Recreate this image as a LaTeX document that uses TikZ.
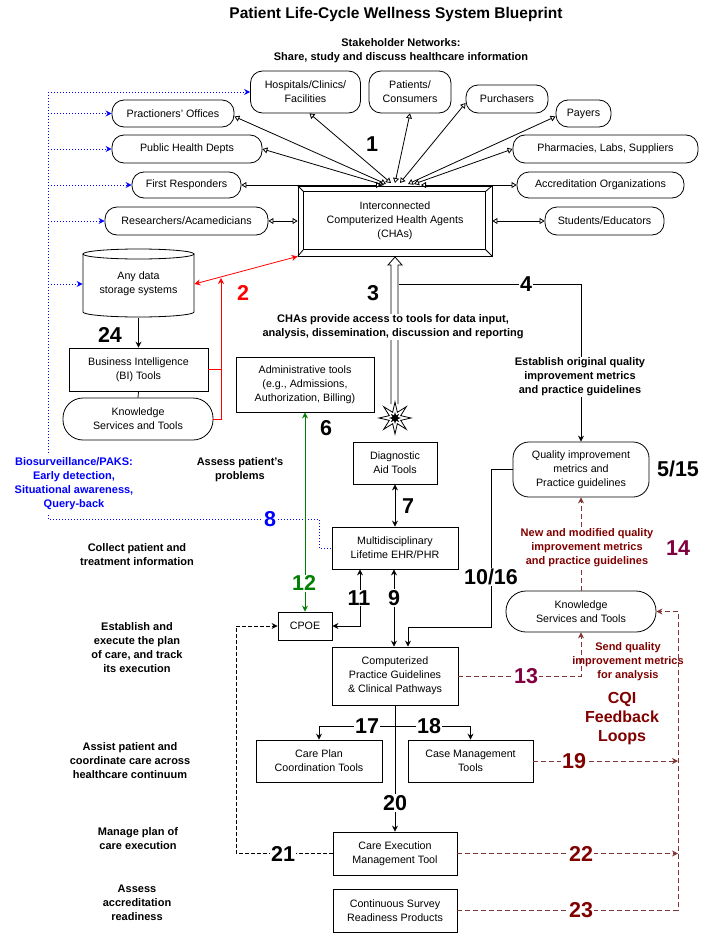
\documentclass[tikz,border=0pt]{standalone}
\usepackage{fontspec}
\setmainfont{Liberation Sans}
\usetikzlibrary{arrows.meta,shapes.geometric}
\definecolor{dred}{RGB}{128,0,0}
\definecolor{dpur}{RGB}{128,0,64}
\definecolor{lred}{RGB}{128,52,52}
\definecolor{dgreen}{RGB}{0,128,0}
\definecolor{bblue}{RGB}{0,0,255}
\newcommand\nfont{\fontsize{10.7}{14}\selectfont}
\newcommand\bfont{\fontsize{11}{14}\selectfont\bfseries}
\newcommand\numfont{\fontsize{21.5}{24}\selectfont\bfseries}
\begin{document}
\begin{tikzpicture}[x=1pt,y=-1pt,line width=0.8pt,
  sbox/.style={draw, align=center, inner sep=0pt, font=\nfont},
  rbox/.style={sbox, rounded corners=#1}, rbox/.default=12pt,
  txt/.style={align=center, inner sep=1pt, font=\bfont},
  lab/.style={font=\numfont, inner sep=1pt},
  labw/.style={lab, fill=white},
  arr/.style={-{Stealth[length=6pt,width=6pt,inset=2pt]}},
  darr/.style={{Stealth[length=6pt,width=6pt,inset=2pt]}-{Stealth[length=6pt,width=6pt,inset=2pt]}},
  tri/.style={{Triangle[open,length=5pt,width=6pt]}-{Triangle[open,length=5pt,width=6pt]}},
  bline/.style={bblue, dash pattern=on 1pt off 2pt},
  rdash/.style={lred, dash pattern=on 5pt off 3pt},
  kdash/.style={black, dash pattern=on 4pt off 2pt}]
\fill[white] (0,0) rectangle (713,939);
\useasboundingbox (0,0) rectangle (713,939);

% titles
\node[font=\fontsize{15.5}{18}\selectfont\bfseries] (title) at (396,14) {Patient Life-Cycle Wellness System Blueprint};
\node[txt] (sub) at (401,50.5) {Stakeholder Networks:\\Share, study and discuss healthcare information};

% stakeholder nodes
\node[rbox, minimum width=110pt, minimum height=42pt] (hosp) at (305.5,92) {Hospitals/Clinics/\\Facilities};
\node[rbox, minimum width=82pt, minimum height=42pt] (pat) at (410,92) {Patients/\\Consumers};
\node[rbox, minimum width=82pt, minimum height=28pt] (purch) at (507,99) {Purchasers};
\node[rbox, minimum width=55pt, minimum height=27pt] (payers) at (583.5,113.5) {Payers};
\node[rbox, minimum width=122pt, minimum height=27pt] (prac) at (173,113.5) {Practioners' Offices};
\node[rbox, minimum width=150pt, minimum height=28pt] (phd) at (187,149) {Public Health Depts};
\node[rbox, minimum width=109pt, minimum height=26pt] (fr) at (186.5,185) {First Responders};
\node[rbox, minimum width=163pt, minimum height=28pt] (res) at (186.5,221) {Researchers/Acamedicians};
\node[rbox, minimum width=185pt, minimum height=28pt] (pharm) at (605.5,149) {Pharmacies, Labs, Suppliers};
\node[rbox, minimum width=167pt, minimum height=26pt] (accr) at (600.5,185) {Accreditation Organizations};
\node[rbox, minimum width=119pt, minimum height=28pt] (stud) at (604.5,221) {Students/Educators};

% CHAs bevel box
\node[sbox, minimum width=194pt, minimum height=70pt] (cha) at (395,221) {Interconnected\\Computerized Health Agents\\(CHAs)};
\draw ([shift={(6pt,-6pt)}]cha.north west) rectangle ([shift={(-7pt,7pt)}]cha.south east);
\draw (cha.north west) -- +(6pt,-6pt);
\draw (cha.north east) -- +(-7pt,-6pt);
\draw (cha.south west) -- +(6pt,7pt);
\draw (cha.south east) -- +(-7pt,7pt);

% hub coordinates
\coordinate (h1) at (386,184);
\coordinate (h2) at (384,185);
\coordinate (h3) at (381,185);
\coordinate (h4) at (391,183);
\coordinate (h5) at (395,183);
\coordinate (h6) at (400,183);
\coordinate (h7) at (408,184);
\coordinate (h8) at (414,184);
\coordinate (h9) at (421,185);
\draw[tri] ([yshift=-3pt]prac.east) -- (h1);
\draw[tri] (phd.east) -- (h2);
\draw[tri] (fr.east) -- (h3);
\draw[tri] ([xshift=4pt]hosp.south) -- (h4);
\draw[tri] (pat.south) -- (h5);
\draw[tri] ([yshift=-4pt]purch.west) -- (h6);
\draw[tri] ([yshift=-3pt]payers.west) -- (h7);
\draw[tri] (pharm.west) -- (h8);
\draw[tri] (accr.west) -- (h9);
\draw[tri] (res.east) -- (cha.west |- res.east);
\draw[tri] (stud.west) -- (cha.east |- stud.west);

% data storage cylinder
\node[minimum width=111pt, minimum height=68pt, inner sep=0pt, align=center, font=\nfont] (ads) at (138.5,284) {Any data\\storage systems};
\draw (138.5,254) ellipse [x radius=55.5pt, y radius=5pt];
\draw (83,254) -- (83,312) arc[start angle=180, end angle=360, x radius=55.5pt, y radius=5pt] -- (194,254);

\node[sbox, minimum width=139pt, minimum height=43pt] (bi) at (138.5,369.5) {Business Intelligence\\(BI) Tools};
\node[rbox=20pt, minimum width=150pt, minimum height=42pt] (ksl) at (138,419) {Knowledge\\Services and Tools};
\node[sbox, minimum width=138pt, minimum height=55pt] (admin) at (305,384.5) {Administrative tools\\(e.g., Admissions,\\Authorization, Billing)};
\node[sbox, minimum width=84pt, minimum height=42pt] (diag) at (395,463) {Diagnostic\\Aid Tools};
\node[sbox, minimum width=126pt, minimum height=42pt] (multi) at (395,548) {Multidisciplinary\\Lifetime EHR/PHR};
\node[sbox, minimum width=54pt, minimum height=28pt] (cpoe) at (305,626) {CPOE};
\node[sbox, minimum width=126pt, minimum height=58pt] (cpg) at (395,676) {Computerized\\Practice Guidelines\\\& Clinical Pathways};
\node[sbox, minimum width=126pt, minimum height=42pt] (cpc) at (319,761) {Care Plan\\Coordination Tools};
\node[sbox, minimum width=125pt, minimum height=42pt] (cmt) at (470.5,761) {Case Management\\Tools};
\node[sbox, minimum width=124pt, minimum height=43pt] (cem) at (395,853.5) {Care Execution\\Management Tool};
\node[sbox, minimum width=124pt, minimum height=43pt] (csr) at (395,910.5) {Continuous Survey\\Readiness Products};
\node[rbox=16pt, minimum width=136pt, minimum height=55pt] (qim) at (581,469.5) {Quality improvement\\metrics and\\Practice guidelines};
\node[rbox=20pt, minimum width=150pt, minimum height=41pt] (ksr) at (581,611.5) {Knowledge\\Services and Tools};

% blue dotted links
\draw[bline] (48,92) -- (48,519) -- (319,519) -- (319,548) -- (multi.west);
\draw[bline, arr] (48,92) -- (hosp.west);
\draw[bline, arr] (48,113.5) -- (prac.west);
\draw[bline, arr] (48,149) -- (phd.west);
\draw[bline, arr] (48,185) -- (fr.west);
\draw[bline, arr] (48,221) -- (res.west);
\draw[bline, arr] (48,284) -- (ads.west);

% red links (2)
\draw[red, darr] (ads.east) -- (cha.south west);
\draw[red] (bi.east) -- (221,369.5);
\draw[red, arr] (ksl.east) -- (221,419) -- (221,278);

% 24
\draw[arr] (ads.south) -- (bi.north);
\draw (bi.south) -- (ksl.north);

% 3: hollow double arrow and star
\draw[fill=white] (391,404) -- (391,265) -- (388,265) -- (395,257) -- (402,265) -- (398,265) -- (398,404);
\node[star, star points=8, star point ratio=2.6, minimum size=32pt, draw, fill=white, inner sep=0pt] (star) at (395,418) {};
\node[star, star points=8, star point ratio=2.2, minimum size=12pt, fill=black, inner sep=0pt] (starc) at (395,418) {};

% 4
\draw[arr] (399,284) -| (qim.north);
% 10/16
\draw[arr] (qim.west) -- (491,469.5) |- (408,627) -- ([xshift=13pt]cpg.north);
% 7, 9, 11, 12
\draw[darr] (diag.south) -- (multi.north);
\draw[darr] ([xshift=-1pt]multi.south) -- ([xshift=-1pt]cpg.north);
\draw[darr] (cpoe.east) -| ([xshift=-35pt]multi.south);
\draw[dgreen, darr] (admin.south) -- (cpoe.north);
% 17, 18, 20
\draw[arr] (395,726) -| (cpc.north);
\draw[arr] (395,726) -| (cmt.north);
\draw[arr] (cpg.south) -- (cem.north);
% 21
\draw[kdash, arr] (cem.west) -- (236,853.5) |- (cpoe.west);
% feedback loops
\draw[rdash, arr] (cpg.east) -| (ksr.south);
\draw[rdash, arr] (ksr.north) -- (qim.south);
\draw[rdash, arr] (cmt.east) -- (678,761);
\draw[rdash, arr] (cem.east) -- (678,853.5);
\draw[rdash, arr] (csr.east) -- (678,910.5) -- (678,611.5) -- (ksr.east);

% texts
\node[txt, fill=white] (chatxt) at (393,327) {CHAs provide access to tools for data input,\\analysis, dissemination, discussion and reporting};
\node[txt, fill=white] (estq) at (580,377) {Establish original quality\\improvement metrics\\and practice guidelines};
\node[txt, fill=white, text=bblue, inner sep=3pt] (bio) at (74,483.5) {Biosurveillance/PAKS:\\Early detection,\\Situational awareness,\\Query-back};
\node[txt] (t1) at (240,470) {Assess patient's\\problems};
\node[txt] (t2) at (137,555) {Collect patient and\\treatment information};
\node[txt] (t3) at (137,647.5) {Establish and\\execute the plan\\of care, and track\\its execution};
\node[txt] (t4) at (130,761) {Assist patient and\\coordinate care across\\healthcare continuum};
\node[txt] (t5) at (138,839) {Manage plan of\\care execution};
\node[txt] (t6) at (137,903) {Assess\\accreditation\\readiness};
\node[txt, fill=white, text=dred] (newq) at (587,548) {New and modified quality\\improvement metrics\\and practice guidelines};
\node[txt, text=dred] (sendq) at (628,661.5) {Send quality\\improvement metrics\\for analysis};
\node[txt, text=dred, font=\fontsize{16}{19}\selectfont\bfseries] (cqi) at (622,719) {CQI\\Feedback\\Loops};

% number labels
\node[lab] (n1) at (372,144) {1};
\node[lab, text=red] (n2) at (243,293) {2};
\node[lab] (n3) at (373,293) {3};
\node[labw] (n4) at (526,284) {4};
\node[lab] (n5) at (678,469) {5/15};
\node[lab] (n6) at (326,428) {6};
\node[lab] (n7) at (408,506) {7};
\node[labw, text=bblue] (n8) at (270,519) {8};
\node[labw] (n9) at (394,598) {9};
\node[labw] (n10) at (491,577) {10/16};
\node[labw] (n11) at (359,598) {11};
\node[labw, text=dgreen] (n12) at (304,583) {12};
\node[labw, text=dpur] (n13) at (526,676) {13};
\node[lab, text=dpur] (n14) at (678,548) {14};
\node[labw] (n17) at (367,726) {17};
\node[labw] (n18) at (429,726) {18};
\node[labw, text=dred] (n19) at (574,761) {19};
\node[labw] (n20) at (395,803) {20};
\node[labw] (n21) at (283,853.5) {21};
\node[labw, text=dred] (n22) at (581,853.5) {22};
\node[labw, text=dred] (n23) at (581,910.5) {23};
\node[lab] (n24) at (110,335) {24};
\end{tikzpicture}
\end{document}
